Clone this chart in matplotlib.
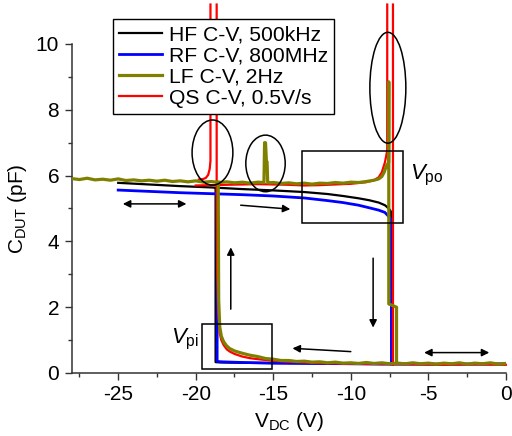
import numpy as np
import matplotlib
matplotlib.use('Agg')
import matplotlib.pyplot as plt
from matplotlib.patches import Ellipse, Rectangle
from matplotlib.ticker import MultipleLocator

plt.rcParams['font.family'] = ['Liberation Sans', 'DejaVu Sans']
plt.rcParams['mathtext.fontset'] = 'custom'
plt.rcParams['mathtext.rm'] = 'Liberation Sans'
plt.rcParams['mathtext.it'] = 'Liberation Sans:italic'
plt.rcParams['axes.unicode_minus'] = False

NAN = np.nan

# HF C-V, 500kHz: forward sweep (high state) then reverse sweep (low state)
hf_fwd_v = [-25, -23, -21, -19, -17, -15, -13, -11.5, -10.5, -9.5, -8.8, -8.2, -7.8, -7.55, -7.4, -7.3]
hf_fwd_c = [5.78, 5.73, 5.68, 5.64, 5.59, 5.55, 5.5, 5.44, 5.38, 5.31, 5.25, 5.18, 5.1, 5.0, 4.9, 0.3]
hf_rev_v = [0, -4, -8, -12, -15, -17, -18.4, -18.72, -18.72]
hf_rev_c = [0.27, 0.27, 0.28, 0.29, 0.3, 0.31, 0.32, 0.33, 5.62]

# RF C-V, 800MHz
rf_fwd_v = [-25, -23, -21, -19, -17, -15, -13, -11.5, -10.5, -9.5, -8.8, -8.2, -7.8, -7.6, -7.45, -7.38, -7.38]
rf_fwd_c = [5.56, 5.52, 5.48, 5.45, 5.42, 5.38, 5.32, 5.24, 5.18, 5.1, 5.02, 4.95, 4.88, 4.78, 4.7, 4.6, 0.28]
rf_rev_v = [0, -4, -8, -12, -15, -17, -18.3, -18.62, -18.62]
rf_rev_c = [0.28, 0.27, 0.27, 0.29, 0.3, 0.32, 0.34, 0.35, 5.45]

# LF C-V, 2Hz (noisy), high state before and after the spike at -15.5 V
lf_hi1_v = np.arange(-28, -15.9, 0.5)
lf_hi1_c = [5.91, 5.88, 5.92, 5.87, 5.89, 5.86, 5.9, 5.85, 5.87, 5.84, 5.86, 5.83, 5.86,
            5.82, 5.84, 5.81, 5.84, 5.8, 5.82, 5.79, 5.81, 5.78, 5.8, 5.77, 5.8]
lf_spike_v = [-15.6, -15.56, -15.5, -15.44, -15.4, -15.36, -15.3]
lf_spike_c = [5.79, 7.0, 7.0, 6.42, 6.42, 5.8, 5.78]
lf_hi2_v = np.arange(-15, -8.4, 0.5)
lf_hi2_c = [5.79, 5.76, 5.78, 5.75, 5.77, 5.74, 5.77, 5.76, 5.79, 5.77, 5.8, 5.79, 5.82, 5.86]
lf_po_v = [-8.2, -8.0, -7.85, -7.7, -7.56, -7.55, -7.55, -7.05, -7.05]
lf_po_c = [5.9, 5.97, 6.1, 6.3, 6.4, 8.85, 2.1, 2.0, 0.3]
lf_lo_v = np.arange(0, -14.9, -0.5)
lf_lo_c = [0.29, 0.27, 0.31, 0.28, 0.3, 0.27, 0.31, 0.28, 0.3, 0.27, 0.3, 0.28, 0.31, 0.28, 0.3,
           0.28, 0.31, 0.29, 0.32, 0.29, 0.31, 0.3, 0.33, 0.31, 0.34, 0.33, 0.36, 0.35, 0.38, 0.38]
lf_pi_v = [-15, -15.5, -16, -16.5, -17, -17.5, -17.8, -18, -18.2, -18.35, -18.45, -18.52, -18.55]
lf_pi_c = [0.42, 0.44, 0.5, 0.54, 0.6, 0.67, 0.74, 0.82, 0.95, 1.12, 1.4, 2.2, 5.8]

# QS C-V, 0.5V/s: displacement-current spikes at pull-in and pull-out
qs_fwd_v = [-20, -19, -18, -17, -16, -15, -14, -13, -12, -11, -10, -9, -8.5, -8.2, -8.0, -7.8, -7.68, -7.65, -7.65]
qs_fwd_c = [5.7, 5.71, 5.72, 5.73, 5.74, 5.73, 5.72, 5.7, 5.71, 5.73, 5.75, 5.8, 5.86, 5.95, 6.1, 6.4, 6.69, 6.8, 11.2]
qs_po_v = [-7.28, -7.28]
qs_po_c = [11.2, 0.26]
qs_rev_v = [0, -2, -4, -6, -8, -10, -12, -13, -14, -15, -16, -16.5, -17, -17.5, -17.8, -18,
            -18.2, -18.35, -18.45, -18.55, -18.62, -18.65, -18.65]
qs_rev_c = [0.25, 0.26, 0.25, 0.26, 0.27, 0.28, 0.3, 0.32, 0.34, 0.37, 0.42, 0.45, 0.5, 0.58, 0.65, 0.72,
            0.85, 1.0, 1.2, 1.8, 3.0, 5.0, 11.2]
qs_end_v = [-19.05, -19.05, -19.1, -19.2, -19.35, -19.55, -19.8]
qs_end_c = [11.2, 6.45, 6.2, 6.02, 5.93, 5.89, 5.88]


def join(*segs):
    # glue segments together with NaN breaks
    vs, cs = [], []
    for v, c in segs:
        vs += list(v) + [NAN]
        cs += list(c) + [NAN]
    return vs, cs


fig = plt.figure(figsize=(5.12, 4.36), dpi=100)
ax = fig.add_axes([0.140, 0.1445, 0.848, 0.7546])

v, c = join((hf_fwd_v, hf_fwd_c), (hf_rev_v, hf_rev_c))
ax.plot(v, c, color='black', lw=1.6, label='HF C-V, 500kHz', zorder=3)
v, c = join((rf_fwd_v, rf_fwd_c), (rf_rev_v, rf_rev_c))
ax.plot(v, c, color='#0000ff', lw=2.0, label='RF C-V, 800MHz', zorder=4)
lf_up_v = list(lf_hi1_v) + lf_spike_v + list(lf_hi2_v) + lf_po_v
lf_up_c = lf_hi1_c + lf_spike_c + lf_hi2_c + lf_po_c
v, c = join((lf_up_v, lf_up_c), (list(lf_lo_v) + lf_pi_v, lf_lo_c + lf_pi_c))
ax.plot(v, c, color='#808000', lw=2.3, label='LF C-V, 2Hz', zorder=6)
v, c = join((qs_fwd_v, qs_fwd_c), (qs_po_v, qs_po_c), (qs_rev_v, qs_rev_c), (qs_end_v, qs_end_c))
ax.plot(v, c, color='#ff0000', lw=1.6, label='QS C-V, 0.5V/s', zorder=5, clip_on=False)

# ellipses and boxes marking the regions of interest
for cx, cy, w, h in [(-18.92, 6.70, 2.63, 1.98), (-15.5, 6.37, 2.54, 1.72), (-7.61, 8.67, 2.32, 3.37)]:
    ax.add_patch(Ellipse((cx, cy), w, h, fill=False, ec='black', lw=1.1, zorder=7, clip_on=False))
ax.add_patch(Rectangle((-13.12, 4.55), 6.49, 2.21, fill=False, ec='black', lw=1.1, zorder=7))
ax.add_patch(Rectangle((-19.57, 0.11), 4.52, 1.38, fill=False, ec='black', lw=1.1, zorder=7))

ax.text(-6.15, 6.0, r'$V_{\mathrm{po}}$', fontsize=16, va='center', ha='left')
ax.text(-21.6, 1.03, r'$V_{\mathrm{pi}}$', fontsize=16, va='center', ha='left')

# sweep direction arrows
arrows = [
    ((-24.7, 5.14), (-20.6, 5.14), '<|-|>'),
    ((-17.1, 5.1), (-13.9, 4.98), '-|>'),
    ((-17.74, 1.94), (-17.74, 3.82), '-|>'),
    ((-8.56, 3.49), (-8.56, 1.38), '-|>'),
    ((-10.0, 0.65), (-13.76, 0.75), '-|>'),
    ((-5.27, 0.62), (-1.07, 0.62), '<|-|>'),
]
for start, end, style in arrows:
    ax.annotate('', xy=end, xytext=start,
                arrowprops=dict(arrowstyle=style, color='black', lw=1.1,
                                mutation_scale=11, shrinkA=0, shrinkB=0))

ax.set_xlim(-28, 0)
ax.set_ylim(0, 10)
ax.xaxis.set_major_locator(MultipleLocator(5))
ax.xaxis.set_minor_locator(MultipleLocator(2.5))
ax.yaxis.set_major_locator(MultipleLocator(2))
ax.yaxis.set_minor_locator(MultipleLocator(1))
for s in ['top', 'right']:
    ax.spines[s].set_visible(False)
for s in ['left', 'bottom']:
    ax.spines[s].set_linewidth(1.1)
    ax.spines[s].set_color('#333333')
ax.tick_params(which='both', direction='out', width=1.0, labelsize=15, color='#333333')
ax.tick_params(which='major', length=5, pad=4)
ax.tick_params(which='minor', length=3)

ax.set_xlabel(r'V$_{\mathrm{DC}}$ (V)', fontsize=15, labelpad=4)
ax.set_ylabel(r'C$_{\mathrm{DUT}}$ (pF)', fontsize=15, labelpad=5)

leg = ax.legend(loc='upper left', bbox_to_anchor=(112.7 / 512, 1 - 19 / 436),
                bbox_transform=fig.transFigure, borderaxespad=0, fontsize=15.2,
                frameon=True, fancybox=False, edgecolor='black', framealpha=1,
                handlelength=2.05, handletextpad=0.3, labelspacing=0.1, borderpad=0.3)
leg.get_frame().set_linewidth(1.0)
leg.set_zorder(10)

fig.savefig('out.png', dpi=100)
